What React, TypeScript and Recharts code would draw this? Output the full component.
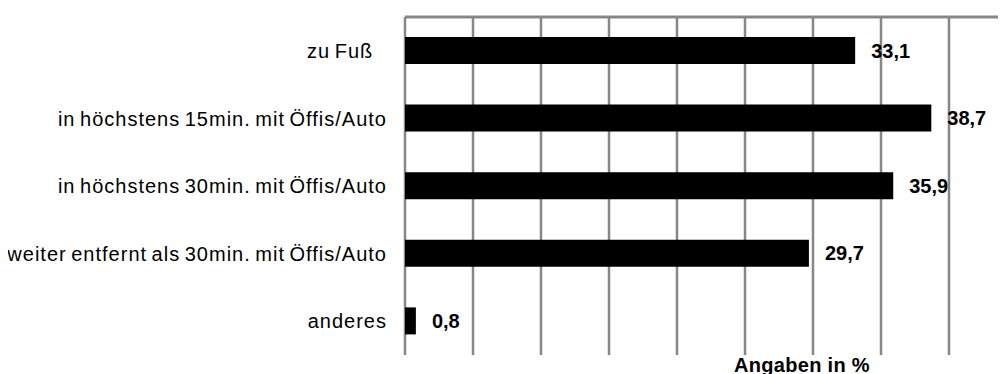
import { BarChart, Bar, XAxis, YAxis, CartesianGrid, LabelList } from "recharts"

const categories = [
  "zu Fuß\u00A0\u00A0\u00A0",
  "in höchstens 15min. mit Öffis/Auto",
  "in höchstens 30min. mit Öffis/Auto",
  "weiter entfernt als 30min. mit Öffis/Auto",
  "anderes"
]
const values = [33.1, 38.7, 35.9, 29.7, 0.8]
const xTicks = [0, 5, 10, 15, 20, 25, 30, 35, 40, 45]

const data = categories.map((name, i) => ({ name, value: values[i] }))

const fmt = (v: any) => String(v).replace(".", ",")

function App() {
  return (
    <div style={{ width: 998, height: 366, overflow: "hidden", fontFamily: "'Liberation Sans', Arial, sans-serif" }}>
      <BarChart
        width={1040}
        height={370}
        data={data}
        layout="vertical"
        margin={{ top: 8, right: 31, bottom: 0, left: 0 }}
      >
        <CartesianGrid horizontal={false} stroke="#878787" strokeWidth={2.5} />
        <XAxis
          xAxisId="top"
          orientation="top"
          type="number"
          domain={[0, 45]}
          ticks={xTicks}
          height={1}
          tick={false}
          tickLine={false}
          axisLine={{ stroke: "#878787", strokeWidth: 3 }}
        />
        <XAxis
          type="number"
          domain={[0, 45]}
          ticks={xTicks}
          height={23}
          tick={() => <g />}
          tickLine={false}
          axisLine={false}
          label={{
            value: "Angaben in %",
            position: "insideBottom",
            offset: 6,
            dx: 91,
            fill: "#000",
            fontSize: 20,
            fontWeight: "bold",
            letterSpacing: 0.3
          }}
        />
        <YAxis
          type="category"
          dataKey="name"
          width={397}
          tickSize={0}
          tickMargin={18}
          axisLine={false}
          tickLine={false}
          tick={{ fill: "#000", fontSize: 20, letterSpacing: 1, wordSpacing: -2 }}
        />
        <Bar dataKey="value" fill="#000" barSize={27} isAnimationActive={false}>
          <LabelList
            dataKey="value"
            position="right"
            offset={16}
            formatter={fmt}
            fill="#000"
            fontSize={20}
            fontWeight="bold"
          />
        </Bar>
      </BarChart>
    </div>
  )
}

export default App
